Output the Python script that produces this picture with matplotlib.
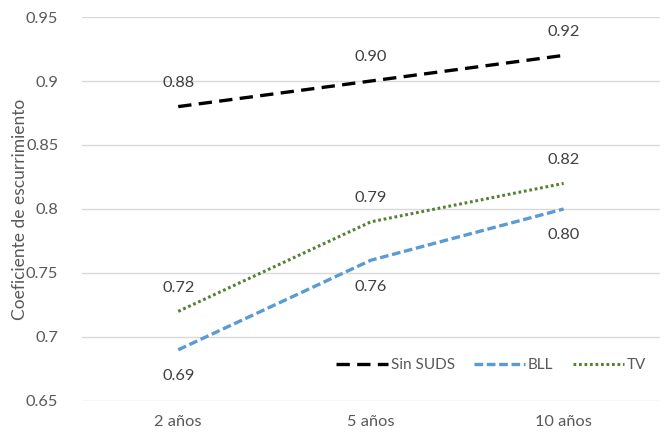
import matplotlib
matplotlib.use("Agg")
import matplotlib.pyplot as plt

categories = ["2 años", "5 años", "10 años"]
sin_suds = [0.88, 0.90, 0.92]
bll = [0.69, 0.76, 0.80]
tv = [0.72, 0.79, 0.82]
y_ticks = [0.65, 0.7, 0.75, 0.8, 0.85, 0.9, 0.95]
y_tick_labels = ["0.65", "0.7", "0.75", "0.8", "0.85", "0.9", "0.95"]

plt.rcParams["font.family"] = ["Lato", "DejaVu Sans"]
text_color = "#595959"

fig = plt.figure(figsize=(6.71, 4.36), dpi=100)
ax = fig.add_axes([0.122, 0.0803, 0.8616, 0.8807])

x = list(range(len(categories)))

ax.plot(x, sin_suds, color="black", lw=2.4, dashes=(4, 2.2), label="Sin SUDS")
ax.plot(x, bll, color="#5B9BD5", lw=2.4, dashes=(2.6, 1.1), label="BLL")
ax.plot(x, tv, color="#548235", lw=2.2, dashes=(0.9, 0.9), label="TV")

label_kw = dict(ha="center", va="center", fontsize=11.8, color="#404040")
for xi, v in zip(x, sin_suds):
    ax.annotate(f"{v:.2f}", (xi, v), xytext=(0, 17), textcoords="offset points", **label_kw)
for xi, v in zip(x, bll):
    ax.annotate(f"{v:.2f}", (xi, v), xytext=(0, -19), textcoords="offset points", **label_kw)
for xi, v in zip(x, tv):
    ax.annotate(f"{v:.2f}", (xi, v), xytext=(0, 17), textcoords="offset points", **label_kw)

ax.set_xlim(-0.5, len(categories) - 0.5)
ax.set_ylim(0.65, 0.95)
ax.set_yticks(y_ticks)
ax.set_yticklabels(y_tick_labels)
ax.set_xticks(x)
ax.set_xticklabels(categories)
ax.tick_params(axis="both", length=0, labelsize=11.8, labelcolor=text_color)
ax.tick_params(axis="y", pad=17)
ax.tick_params(axis="x", pad=10)
ax.grid(axis="y", color="#D9D9D9", lw=1)
ax.set_axisbelow(True)
for s in ax.spines.values():
    s.set_visible(False)
ax.set_ylabel("Coeficiente de escurrimiento", fontsize=12.5, color=text_color)
ax.yaxis.set_label_coords(-0.094, 0.5)

ax.legend(loc="lower right", bbox_to_anchor=(1.0, 0.04), ncol=3, frameon=False,
          fontsize=11, labelcolor=text_color, handlelength=3.35, handletextpad=0.2,
          columnspacing=1.25)

fig.savefig("out.png", dpi=100)
